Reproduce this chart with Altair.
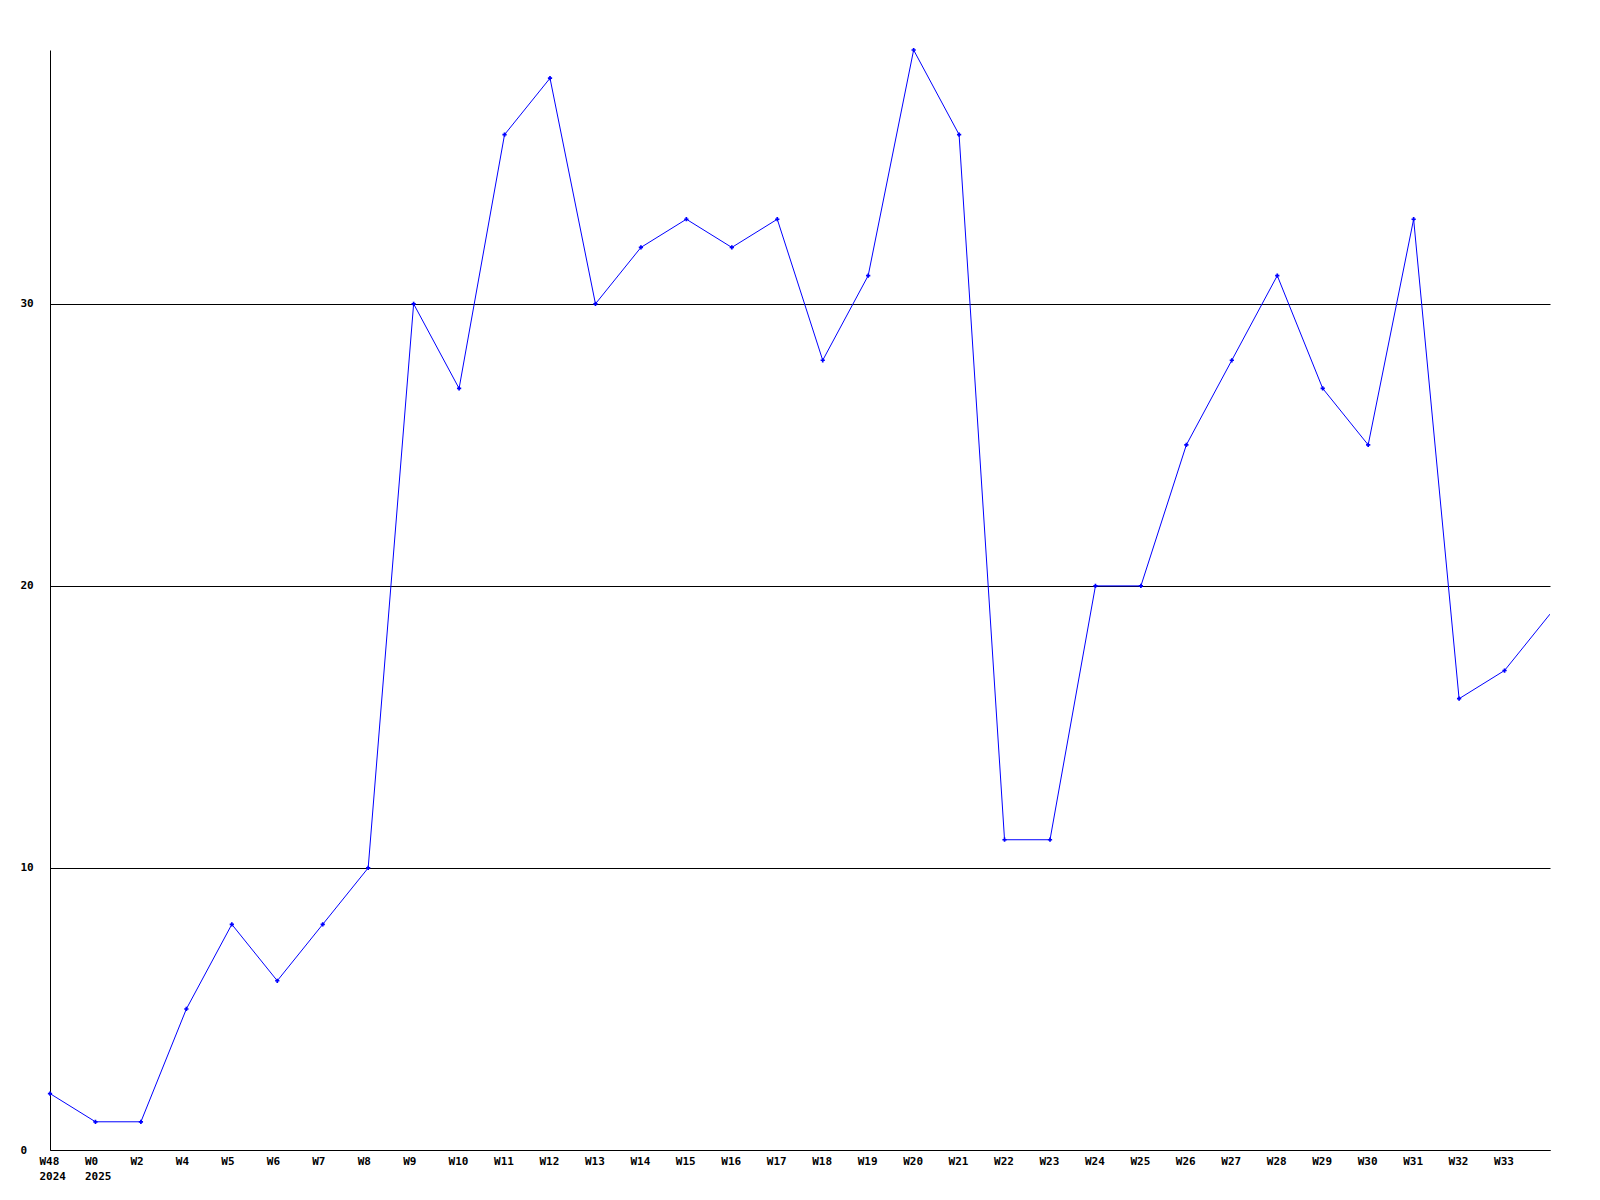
import json
import altair as alt
import pandas as pd

weeks = ["W48", "W0", "W2", "W4", "W5", "W6", "W7", "W8", "W9", "W10", "W11", "W12",
         "W13", "W14", "W15", "W16", "W17", "W18", "W19", "W20", "W21", "W22", "W23",
         "W24", "W25", "W26", "W27", "W28", "W29", "W30", "W31", "W32", "W33", "W34"]
years = {"W48": "2024", "W0": "2025"}
values = [2, 1, 1, 5, 8, 6, 8, 10, 30, 27, 36, 38,
          30, 32, 33, 32, 33, 28, 31, 39, 36, 11, 11,
          20, 20, 25, 28, 31, 27, 25, 33, 16, 17, 19]
y_ticks = [0, 10, 20, 30]

df = pd.DataFrame({"idx": list(range(len(weeks))), "week": weeks, "value": values})
label_list = [[w, years[w]] if w in years else w for w in weeks[:-1]] + [""]
label_expr = json.dumps(label_list) + "[datum.value]"
last_idx = len(weeks) - 1

x_enc = alt.X(
    "idx:Q",
    scale=alt.Scale(domain=[0, last_idx], nice=False, zero=False),
    axis=alt.Axis(
        values=list(range(last_idx)),
        labelExpr=label_expr,
        title=None,
        grid=False,
        ticks=False,
        labelPadding=5,
        labelLineHeight=15,
        labelAlign="left",
        labelOffset=-11,
        labelBaseline="top",
        labelFlush=False,
        labelOverlap=False,
    ),
)
y_enc = alt.Y(
    "value:Q",
    scale=alt.Scale(domain=[0, 39], nice=False, zero=True),
    axis=alt.Axis(
        values=y_ticks,
        title=None,
        grid=True,
        gridColor="black",
        gridWidth=1,
        gridOpacity=1,
        ticks=False,
        labelAlign="left",
        labelBaseline="middle",
        labelPadding=30,
        format="d",
    ),
)

base = alt.Chart(df).encode(x=x_enc, y=y_enc)
line = base.mark_line(color="#0000ff", strokeWidth=1, clip=True)
pts = base.mark_point(shape="cross", filled=True, color="#0000ff", size=18, opacity=1).transform_filter(
    alt.datum.idx < last_idx
)

chart = (
    (line + pts)
    .properties(
        width=1500,
        height=1100,
        autosize=alt.AutoSizeParams(type="none"),
        padding={"left": 42, "top": 42, "right": 40, "bottom": 40},
        background="white",
    )
    .configure_view(stroke=None)
    .configure_axis(
        domainColor="black",
        domainWidth=1,
        labelFont="DejaVu Sans Mono",
        labelFontWeight="bold",
        labelFontSize=11,
        labelColor="black",
    )
)

chart.save("out.html", embed_options={"renderer": "svg", "actions": False})
